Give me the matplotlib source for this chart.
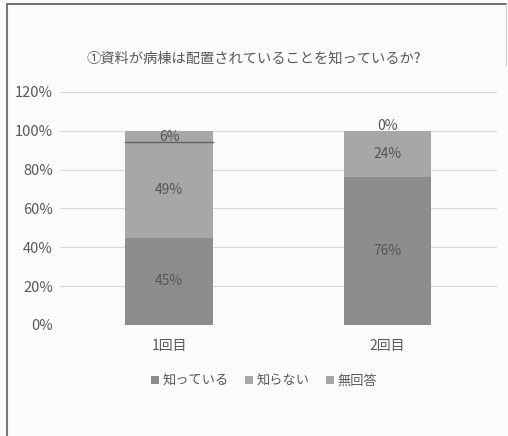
import matplotlib
matplotlib.use("Agg")
import matplotlib.pyplot as plt
import numpy as np

plt.rcParams['font.family'] = ['Noto Sans CJK JP', 'DejaVu Sans']

categories = ['1回目', '2回目']
series_names = ['知っている', '知らない', '無回答']
know = [45, 76]
dont_know = [49, 24]
no_answer = [6, 0]
yticks = [0, 20, 40, 60, 80, 100, 120]
title = '①資料が病棟は配置されていることを知っているか?'

colors = ['#8b8d8f', '#a5a7a9', '#a5a7a9']
txt = '#595959'

fig = plt.figure(figsize=(5.08, 4.36), dpi=100, facecolor='#fbfbfb')
ax = fig.add_axes([0.118, 0.2546, 0.86, 0.5344])
ax.set_facecolor('#fbfbfb')

x = np.arange(len(categories))
w = 0.40
bottom = np.zeros(len(categories))
handles = []
for vals, name, c in zip([know, dont_know, no_answer], series_names, colors):
    v = np.array(vals, dtype=float)
    b = ax.bar(x, v, w, bottom=bottom, color=c, label=name, zorder=2)
    handles.append(b)
    for xi, vi, bi in zip(x, v, bottom):
        if name == '無回答':
            if vi > 0:
                ax.plot([xi - w/2, xi + w/2], [bi, bi], color='#5e6062', lw=1.0, zorder=3)
                ypos = bi + vi/2
            else:
                ypos = bi + 2.5
        else:
            ypos = bi + vi/2
        ax.text(xi, ypos, f'{int(vi)}%', ha='center', va='center', fontsize=10,
                color='#555555', zorder=4)
    bottom += v

ax.set_ylim(0, 120)
ax.set_xlim(-0.5, 1.5)
ax.set_yticks(yticks)
ax.set_yticklabels([f'{t}%' for t in yticks], fontsize=10.5, color=txt)
ax.set_xticks(x)
ax.set_xticklabels(categories, fontsize=10, color=txt)
ax.tick_params(axis='both', length=0)
ax.tick_params(axis='y', pad=5)
ax.tick_params(axis='x', pad=10)
ax.yaxis.grid(True, color='#d9d9d9', lw=0.9, zorder=0)
ax.set_axisbelow(True)
for s in ax.spines.values():
    s.set_visible(False)

fig.text(0.5, 0.865, title, ha='center', va='center', fontsize=10.3, color=txt)

leg = fig.legend(handles=handles, labels=series_names, loc='center', bbox_to_anchor=(0.52, 0.126),
                 ncol=3, frameon=False, fontsize=9.5, handlelength=0.6, handleheight=0.6,
                 handletextpad=0.3, columnspacing=1.2)
for t in leg.get_texts():
    t.set_color(txt)

# outer frame lines (top, left, right)
fig.add_artist(plt.Line2D([0.014, 0.996], [0.991, 0.991], transform=fig.transFigure, color='#555555', lw=1.2))
fig.add_artist(plt.Line2D([0.014, 0.014], [0.0, 0.991], transform=fig.transFigure, color='#777777', lw=1.5))
fig.add_artist(plt.Line2D([0.996, 0.996], [0.85, 0.991], transform=fig.transFigure, color='#cccccc', lw=0.8))

fig.savefig('out.png', dpi=100, facecolor=fig.get_facecolor())
